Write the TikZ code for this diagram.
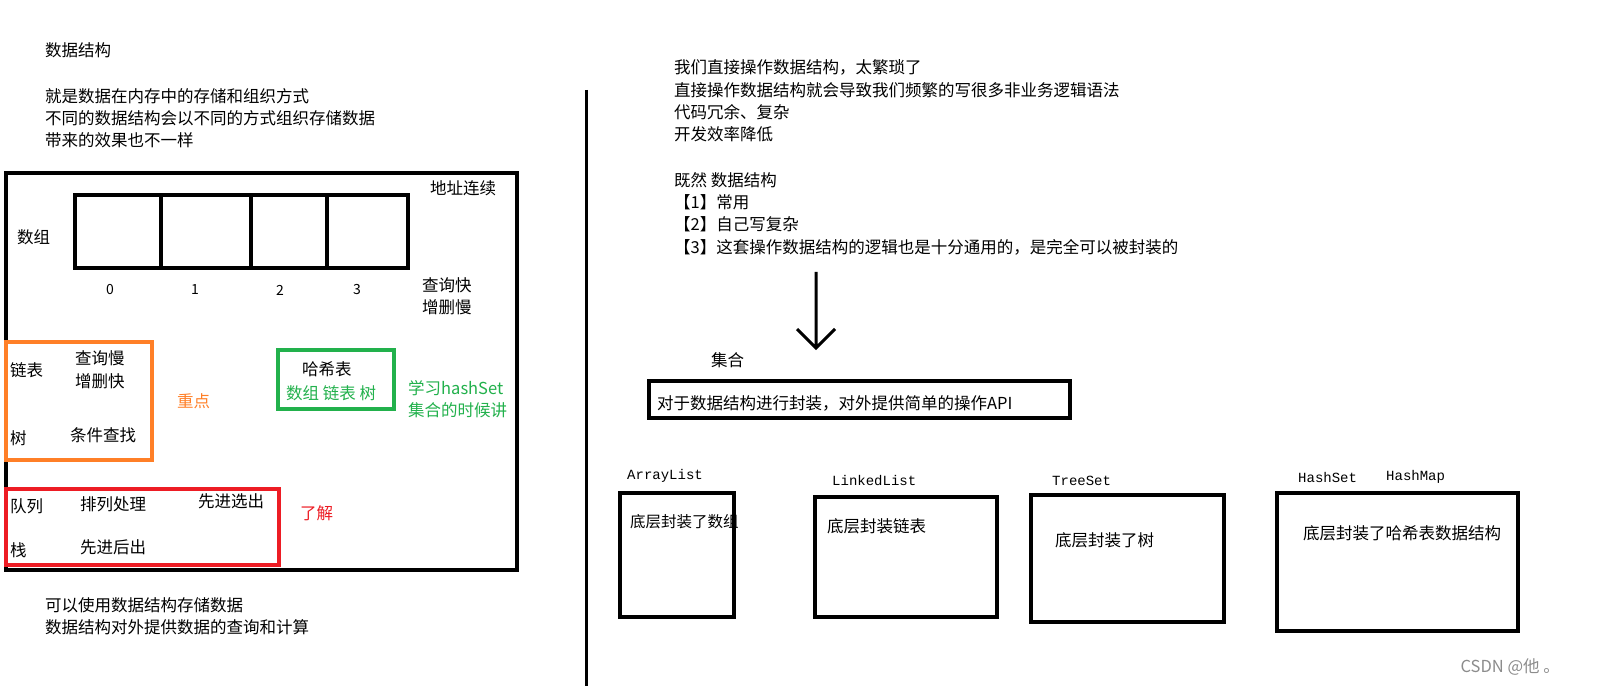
\documentclass[tikz,border=0pt]{standalone}
\usepackage{fontspec}
\setmainfont{Noto Sans CJK SC}
\newfontfamily\monof{Liberation Mono}
\begin{document}
\begin{tikzpicture}[x=1pt,y=-1pt,
  t/.style={anchor=west,inner sep=0pt,font=\fontsize{16.5}{18}\selectfont},
  m/.style={anchor=west,inner sep=0pt,font=\monof\fontsize{14}{16}\selectfont},
  bx/.style={draw=black,line width=3.5pt},
  idx/.style={inner sep=0pt,font=\fontsize{14}{16}\selectfont}]
\fill[white] (0,0) rectangle (1600,700);
\definecolor{org}{RGB}{255,127,39}
\definecolor{grn}{RGB}{34,177,76}
\definecolor{rd}{RGB}{237,28,36}
% left texts
\node[t] (n1) at (45,50) {数据结构};
\node[t] (n2) at (45,96) {就是数据在内存中的存储和组织方式};
\node[t] (n3) at (45,118) {不同的数据结构会以不同的方式组织存储数据};
\node[t] (n4) at (45,140) {带来的效果也不一样};
\draw[bx] (6,173) rectangle (517,570);
\node[t] (dz) at (430,188) {地址连续};
\draw[bx] (75,195) rectangle (408,268);
\draw[line width=3.5pt] (161,195)--(161,268) (251,195)--(251,268) (327,195)--(327,268);
\node[t] (sz) at (17,237) {数组};
\node[idx] (i0) at (110,290) {0};
\node[idx] (i1) at (195,290) {1};
\node[idx] (i2) at (280,290) {2};
\node[idx] (i3) at (357,290) {3};
\node[t] (q1) at (422,285) {查询快};
\node[t] (q2) at (422,307) {增删慢};
\draw[org,line width=3.5pt] (6,342) rectangle (152,460);
\node[t] (lb) at (10,370) {链表};
\node[t] (q3) at (75,358) {查询慢};
\node[t] (q4) at (75,381) {增删快};
\node[t] (sh) at (10,438) {树};
\node[t] (tj) at (70,435) {条件查找};
\node[t,text=org] (zd) at (177,401) {重点};
\draw[grn,line width=3.5pt] (278,350) rectangle (394,409);
\node[t] (hx) at (302,369) {哈希表};
\node[t,text=grn] (hx2) at (286,393) {数组 链表 树};
\node[t,text=grn] (xx1) at (408,388) {学习hashSet};
\node[t,text=grn] (xx2) at (408,410) {集合的时候讲};
\draw[rd,line width=3.5pt] (6,489) rectangle (279,565);
\node[t] (dl) at (10,506) {队列};
\node[t] (pl) at (80,504) {排列处理};
\node[t] (xj) at (198,501) {先进选出};
\node[t] (zh) at (10,550) {栈};
\node[t] (xh) at (80,547) {先进后出};
\node[t,text=rd] (lj) at (300,513) {了解};
\node[t] (b1) at (45,605) {可以使用数据结构存储数据};
\node[t] (b2) at (45,627) {数据结构对外提供数据的查询和计算};
% divider
\coordinate (v1) at (586,90); \coordinate (v2) at (586,686);
\draw[line width=3pt] (v1)--(v2);
% right texts
\node[t] (r1) at (674,67) {我们直接操作数据结构，太繁琐了};
\node[t] (r2) at (674,90) {直接操作数据结构就会导致我们频繁的写很多非业务逻辑语法};
\node[t] (r3) at (674,112) {代码冗余、复杂};
\node[t] (r4) at (674,134) {开发效率降低};
\node[t] (r5) at (674,180) {既然 数据结构};
\node[t] (r6) at (674,202) {【1】常用};
\node[t] (r7) at (674,224) {【2】自己写复杂};
\node[t] (r8) at (674,247) {【3】这套操作数据结构的逻辑也是十分通用的，是完全可以被封装的};
\coordinate (a1) at (816,272); \coordinate (a2) at (816,348);
\draw[line width=3pt] (a1)--(a2) (797,329)--(a2)--(835,329);
\node[t] (jh) at (711,360) {集合};
\draw[bx] (649,381) rectangle (1070,418);
\node[t] (fz) at (657,403) {对于数据结构进行封装，对外提供简单的操作API};
\node[m] (al) at (627,476) {ArrayList};
\draw[bx] (620,493) rectangle (734,617);
\node[t,font=\fontsize{15.5}{17}\selectfont] (at) at (630,522) {底层封装了数组};
\node[m] (ll) at (832,481) {LinkedList};
\draw[bx] (815,497) rectangle (997,617);
\node[t] (lt) at (827,526) {底层封装链表};
\node[m] (ts) at (1052,481) {TreeSet};
\draw[bx] (1031,495) rectangle (1224,622);
\node[t] (tt) at (1055,540) {底层封装了树};
\node[m] (hs) at (1298,477) {HashSet};
\node[m] (hm) at (1386,477) {HashMap};
\draw[bx] (1277,493) rectangle (1518,631);
\node[t] (ht) at (1303,533) {底层封装了哈希表数据结构};
\node[t,anchor=east,text=black!45] (wm) at (1560,667) {CSDN @他 。};
\pgfresetboundingbox
\useasboundingbox (0,0) rectangle (1600,700);
\end{tikzpicture}
\end{document}
